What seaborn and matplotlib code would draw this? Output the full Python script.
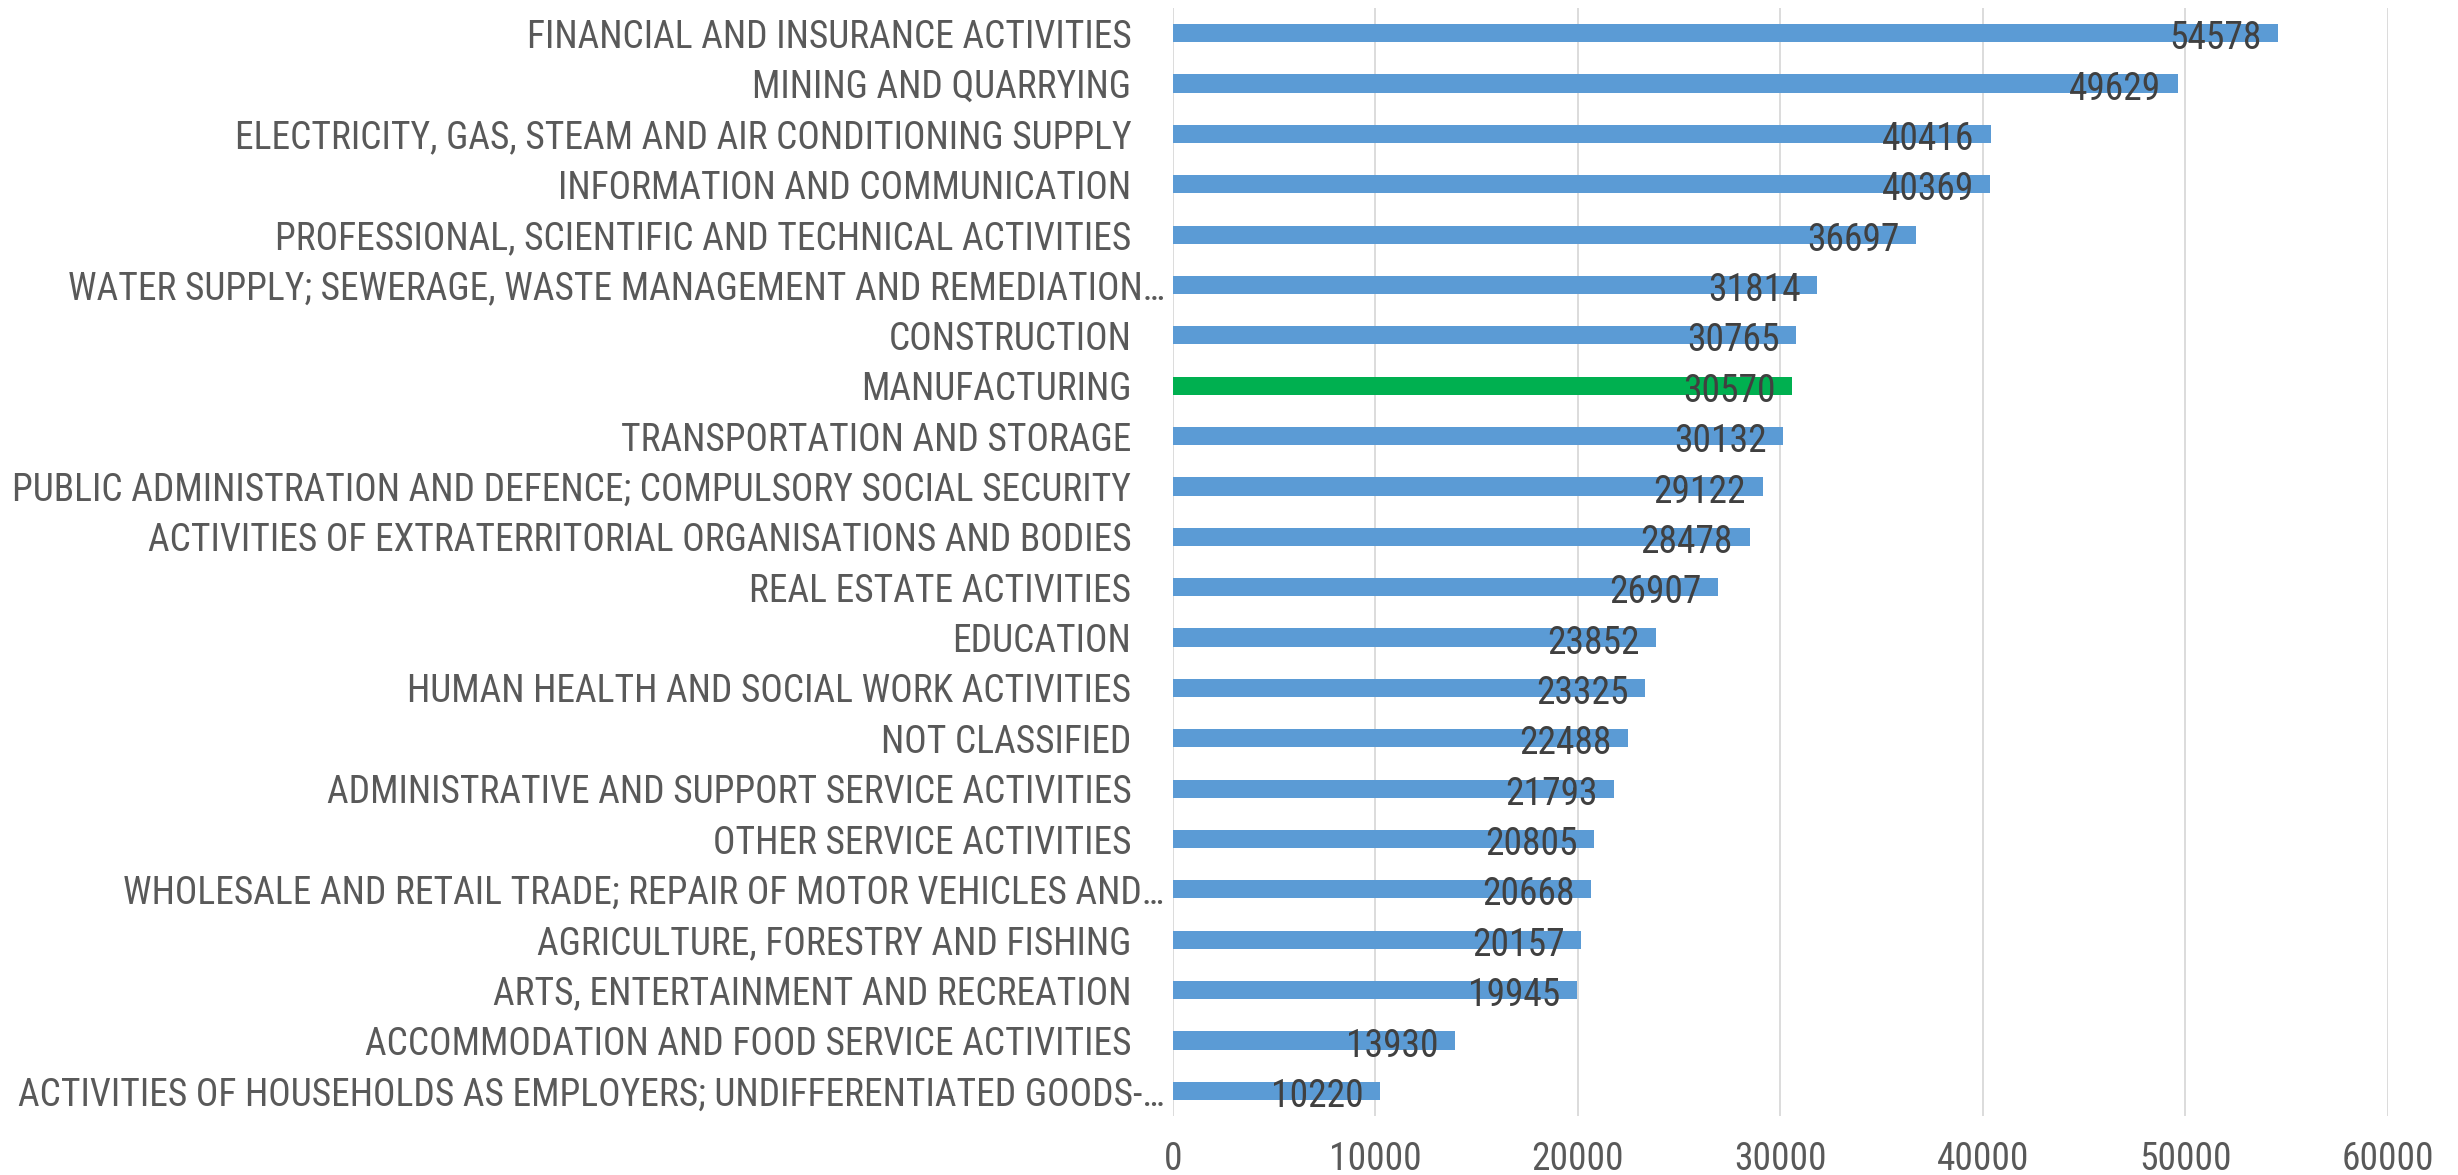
import matplotlib
matplotlib.use('Agg')
import matplotlib.pyplot as plt
import matplotlib.transforms as mtransforms
import seaborn as sns
import pandas as pd

# Sector labels (top to bottom as shown)
sectors = [
    'FINANCIAL AND INSURANCE ACTIVITIES',
    'MINING AND QUARRYING',
    'ELECTRICITY, GAS, STEAM AND AIR CONDITIONING SUPPLY',
    'INFORMATION AND COMMUNICATION',
    'PROFESSIONAL, SCIENTIFIC AND TECHNICAL ACTIVITIES',
    'WATER SUPPLY; SEWERAGE, WASTE MANAGEMENT AND REMEDIATION\u2026',
    'CONSTRUCTION',
    'MANUFACTURING',
    'TRANSPORTATION AND STORAGE',
    'PUBLIC ADMINISTRATION AND DEFENCE; COMPULSORY SOCIAL SECURITY',
    'ACTIVITIES OF EXTRATERRITORIAL ORGANISATIONS AND BODIES',
    'REAL ESTATE ACTIVITIES',
    'EDUCATION',
    'HUMAN HEALTH AND SOCIAL WORK ACTIVITIES',
    'NOT CLASSIFIED',
    'ADMINISTRATIVE AND SUPPORT SERVICE ACTIVITIES',
    'OTHER SERVICE ACTIVITIES',
    'WHOLESALE AND RETAIL TRADE; REPAIR OF MOTOR VEHICLES AND\u2026',
    'AGRICULTURE, FORESTRY AND FISHING',
    'ARTS, ENTERTAINMENT AND RECREATION',
    'ACCOMMODATION AND FOOD SERVICE ACTIVITIES',
    'ACTIVITIES OF HOUSEHOLDS AS EMPLOYERS; UNDIFFERENTIATED GOODS-\u2026',
]

# Values per sector
values = [54578, 49629, 40416, 40369, 36697, 31814, 30765, 30570, 30132, 29122,
          28478, 26907, 23852, 23325, 22488, 21793, 20805, 20668, 20157, 19945,
          13930, 10220]

highlight = 'MANUFACTURING'
x_ticks = [0, 10000, 20000, 30000, 40000, 50000, 60000]

blue = '#5B9BD5'
green = '#00B050'

df = pd.DataFrame({'sector': sectors, 'value': values})
palette = {s: (green if s == highlight else blue) for s in sectors}

sns.set_style('white')
plt.rcParams['font.family'] = ['Roboto Condensed', 'DejaVu Sans']

fig = plt.figure(figsize=(24.58, 11.75), dpi=100)
ax = fig.add_axes([0.4772, 0.0502, 0.4943, 0.943])

sns.barplot(data=df, x='value', y='sector', hue='sector', palette=palette,
            legend=False, width=0.36, saturation=1, ax=ax, zorder=3,
            linewidth=0)

ax.set_xlim(0, 60000)
ax.set_ylim(len(sectors) - 0.5, -0.5)
ax.set_xticks(x_ticks)
ax.set_xticklabels([str(t) for t in x_ticks])
ax.grid(axis='x', color='#D9D9D9', linewidth=1.3, zorder=0)
ax.grid(axis='y', visible=False)
for sp in ax.spines.values():
    sp.set_visible(False)

ax.tick_params(axis='both', length=0, labelsize=27, colors='#595959')
ax.tick_params(axis='y', pad=30)
ax.tick_params(axis='x', pad=18)
ax.set_xlabel('')
ax.set_ylabel('')

# truncated (ellipsis) labels sit a little closer to the axis, as in Excel
shift = mtransforms.ScaledTranslation(24 / 72, 0, fig.dpi_scale_trans)
for lab in ax.get_yticklabels():
    if lab.get_text().endswith('\u2026'):
        lab.set_transform(lab.get_transform() + shift)

# value labels just inside the bar ends
off = mtransforms.offset_copy(ax.transData, fig=fig, x=-12, y=-4, units='points')
for i, v in enumerate(values):
    ax.text(v, i, str(v), transform=off, ha='right', va='center',
            fontsize=27, color='#404040', zorder=5)

fig.savefig('out.png', dpi=100)
